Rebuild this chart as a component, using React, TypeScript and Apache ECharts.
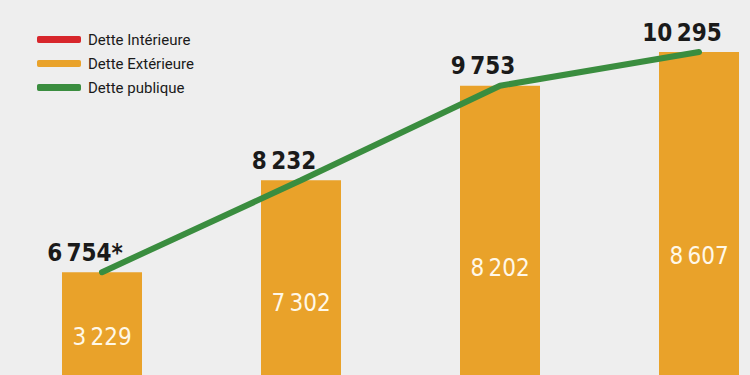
import React, { useEffect, useRef } from "react";
import * as echarts from "echarts";

const categories = ["A", "B", "C", "D"];
const detteExterieure = [3229, 7302, 8202, 8607];
const dettePublique = [6754, 8232, 9753, 10295];
const notes = ["*", "", "", ""];
// Intérieure = publique − extérieure (segment below the visible crop)
const detteInterieure = [3525, 930, 1551, 1688];

const NARROW = '"DejaVu Sans Condensed", "Liberation Sans Narrow", "Roboto Condensed", Roboto, sans-serif';

const fmt = (v: number) => String(v).replace(/\B(?=(\d{3})+(?!\d))/g, "\u2009");

export default function App() {
  const ref = useRef<HTMLDivElement>(null);
  useEffect(() => {
    if (!ref.current) return;
    const chart = echarts.init(ref.current, null, { renderer: "svg" });
    chart.setOption({
      animation: false,
      backgroundColor: "#eeeeee",
      legend: {
        orient: "vertical",
        left: 32,
        top: 27,
        itemWidth: 44,
        itemHeight: 7,
        itemGap: 9,
        icon: "roundRect",
        textStyle: { fontFamily: "Roboto", fontSize: 15, color: "#1a1a1a", padding: [0, 0, 0, 2] },
        data: ["Dette Intérieure", "Dette Extérieure", "Dette publique"],
      },
      grid: { left: 102, right: 51, top: 2, bottom: 0 },
      xAxis: { type: "category", data: categories, show: false, boundaryGap: false },
      yAxis: { type: "value", min: 5100, max: 11100, show: false, splitLine: { show: false } },
      series: [
        {
          name: "Dette Intérieure",
          type: "bar",
          stack: "d",
          barWidth: 80,
          data: detteInterieure,
          itemStyle: { color: "#d7262b" },
        },
        {
          name: "Dette Extérieure",
          type: "bar",
          stack: "d",
          barWidth: 80,
          data: detteExterieure,
          itemStyle: { color: "#e9a22a" },
          label: {
            show: true,
            position: ["50%", "63%"],
            align: "center",
            verticalAlign: "middle",
            color: "#fff8e8",
            fontFamily: NARROW,
            fontSize: 24,
            formatter: (p: any) => fmt(p.value),
          },
        },
        {
          name: "Dette publique",
          type: "line",
          data: dettePublique,
          symbol: "circle",
          symbolSize: 1,
          itemStyle: { color: "#3a8d3f" },
          lineStyle: { color: "#3a8d3f", width: 6, cap: "round" },
          label: {
            show: true,
            position: "top",
            distance: 7,
            offset: [-17, 0],
            color: "#1a1a1a",
            fontFamily: NARROW,
            fontWeight: "bold",
            fontSize: 24,
            formatter: (p: any) => fmt(p.value) + notes[p.dataIndex],
          },
        },
      ],
    });
    return () => chart.dispose();
  }, []);
  return <div ref={ref} style={{ width: 750, height: 375, position: "absolute", left: 0, top: 0 }} />;
}
